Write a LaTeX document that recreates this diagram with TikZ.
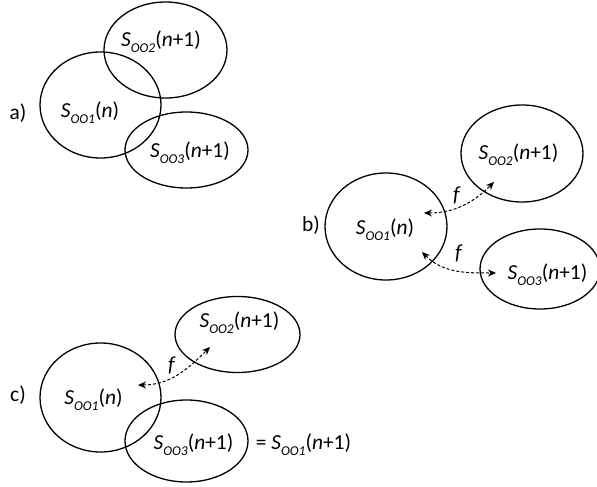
\documentclass[tikz,border=0pt]{standalone}
\usepackage{fontspec}
\setmainfont{Carlito}
\usetikzlibrary{shapes.geometric,arrows.meta}
\newcommand{\sublab}[1]{\raisebox{-0.28em}{\fontsize{13.5}{13.5}\selectfont\itshape #1}}
\newcommand{\Slab}[2]{\textit{S}\sublab{#1}(#2)}
\tikzset{
  set/.style={draw, ellipse, line width=1.3bp, inner sep=0pt},
  lab/.style={font=\fontsize{21.5}{25}\selectfont, inner sep=0pt},
  farrow/.style={dashed, dash pattern=on 3bp off 2bp, line width=1bp, {Stealth[length=8bp,width=7bp]}-{Stealth[length=8bp,width=7bp]}},
}
\begin{document}
\begin{tikzpicture}[x=1bp,y=-1bp]
\useasboundingbox (0,0) rectangle (597,487);
% panel a
\node[set, minimum width=121bp, minimum height=106bp] (a1) at (100.5,105) {};
\node[set, minimum width=123bp, minimum height=96bp] (a2) at (165.5,50) {};
\node[set, minimum width=123bp, minimum height=76bp] (a3) at (186.5,150) {};
\node[lab] (ta) at (18,113) {a)};
\node[lab] (ta1) at (90,113) {\Slab{OO1}{\textit{n}}};
\node[lab] (ta2) at (161,42) {\Slab{OO2}{\textit{n}+1}};
\node[lab] (ta3) at (190,153) {\Slab{OO3}{\textit{n}+1}};
% panel b
\node[set, minimum width=122bp, minimum height=107bp] (b1) at (386,226.5) {};
\node[set, minimum width=122bp, minimum height=97bp] (b2) at (522,153.5) {};
\node[set, minimum width=120bp, minimum height=80bp] (b3) at (540,269) {};
\node[lab] (tb) at (311,225) {b)};
\node[lab] (tb1) at (385,230) {\Slab{OO1}{\textit{n}}};
\node[lab] (tb2) at (518.5,155) {\Slab{OO2}{\textit{n}+1}};
\node[lab] (tb3) at (547.5,275) {\Slab{OO3}{\textit{n}+1}};
\coordinate (b1p) at (424,213);
\coordinate (b2p) at (494,182);
\coordinate (b1q) at (422,252);
\coordinate (b3q) at (496,273);
\draw[farrow] (b1p) to[out=0, in=225] (b2p);
\draw[farrow] (b1q) to[out=-45, in=180] (b3q);
\node[lab] (fb1) at (457,195) {\textit{f}};
\node[lab] (fb2) at (459,253) {\textit{f}};
% panel c
\node[set, minimum width=121bp, minimum height=109bp] (c1) at (100.5,397.5) {};
\node[set, minimum width=125bp, minimum height=76bp] (c2) at (237.5,334.5) {};
\node[set, minimum width=123bp, minimum height=82bp] (c3) at (186.5,441) {};
\node[lab] (tc) at (18,395) {c)};
\node[lab] (tc1) at (93.5,400) {\Slab{OO1}{\textit{n}}};
\node[lab] (tc2) at (239.5,323) {\Slab{OO2}{\textit{n}+1}};
\node[lab] (tc3) at (193.5,445) {\Slab{OO3}{\textit{n}+1}};
\node[lab] (tceq) at (303.5,445) {= \Slab{OO1}{\textit{n}+1}};
\coordinate (c1p) at (138,385);
\coordinate (c2p) at (210,347);
\draw[farrow] (c1p) to[out=0, in=225] (c2p);
\node[lab] (fc) at (172,365) {\textit{f}};
\end{tikzpicture}
\end{document}
